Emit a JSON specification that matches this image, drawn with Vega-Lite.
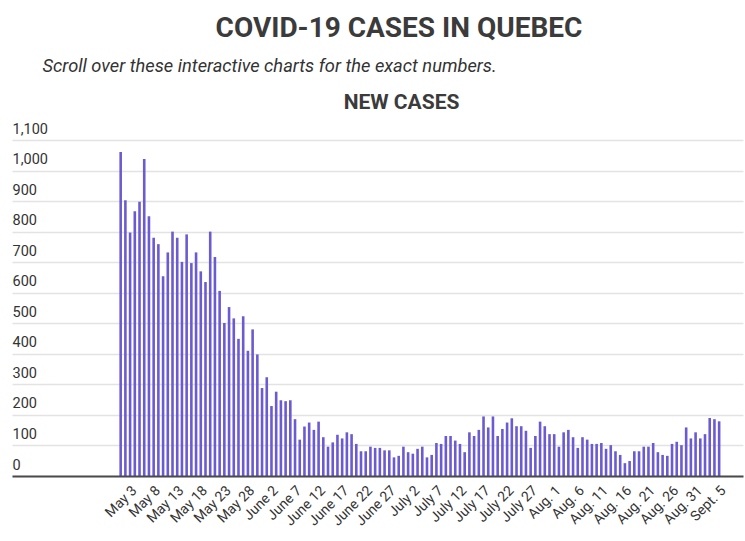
{
  "$schema": "https://vega.github.io/schema/vega-lite/v6.json",
  "width": 731,
  "height": 336,
  "autosize": {"type": "none"},
  "padding": {"left": 12, "top": 140, "right": 2, "bottom": 65},
  "background": "white",
  "title": {
    "text": "COVID-19 CASES IN QUEBEC",
    "anchor": "middle",
    "frame": "group",
    "dx": 21.5,
    "font": "Roboto",
    "fontSize": 28,
    "fontWeight": "bold",
    "color": "#3b3b3b",
    "offset": 13
  },
  "config": {"view": {"stroke": null}, "font": "Roboto"},
  "data": {
    "values": [
      {"date": "2020-05-03", "cases": 1061},
      {"date": "2020-05-04", "cases": 903},
      {"date": "2020-05-05", "cases": 797},
      {"date": "2020-05-06", "cases": 867},
      {"date": "2020-05-07", "cases": 898},
      {"date": "2020-05-08", "cases": 1038},
      {"date": "2020-05-09", "cases": 850},
      {"date": "2020-05-10", "cases": 780},
      {"date": "2020-05-11", "cases": 759},
      {"date": "2020-05-12", "cases": 654},
      {"date": "2020-05-13", "cases": 732},
      {"date": "2020-05-14", "cases": 800},
      {"date": "2020-05-15", "cases": 780},
      {"date": "2020-05-16", "cases": 701},
      {"date": "2020-05-17", "cases": 791},
      {"date": "2020-05-18", "cases": 697},
      {"date": "2020-05-19", "cases": 732},
      {"date": "2020-05-20", "cases": 670},
      {"date": "2020-05-21", "cases": 635},
      {"date": "2020-05-22", "cases": 800},
      {"date": "2020-05-23", "cases": 717},
      {"date": "2020-05-24", "cases": 606},
      {"date": "2020-05-25", "cases": 501},
      {"date": "2020-05-26", "cases": 553},
      {"date": "2020-05-27", "cases": 516},
      {"date": "2020-05-28", "cases": 449},
      {"date": "2020-05-29", "cases": 523},
      {"date": "2020-05-30", "cases": 410},
      {"date": "2020-05-31", "cases": 480},
      {"date": "2020-06-01", "cases": 398},
      {"date": "2020-06-02", "cases": 288},
      {"date": "2020-06-03", "cases": 323},
      {"date": "2020-06-04", "cases": 229},
      {"date": "2020-06-05", "cases": 276},
      {"date": "2020-06-06", "cases": 248},
      {"date": "2020-06-07", "cases": 245},
      {"date": "2020-06-08", "cases": 248},
      {"date": "2020-06-09", "cases": 186},
      {"date": "2020-06-10", "cases": 119},
      {"date": "2020-06-11", "cases": 162},
      {"date": "2020-06-12", "cases": 175},
      {"date": "2020-06-13", "cases": 151},
      {"date": "2020-06-14", "cases": 178},
      {"date": "2020-06-15", "cases": 127},
      {"date": "2020-06-16", "cases": 96},
      {"date": "2020-06-17", "cases": 110},
      {"date": "2020-06-18", "cases": 135},
      {"date": "2020-06-19", "cases": 123},
      {"date": "2020-06-20", "cases": 143},
      {"date": "2020-06-21", "cases": 137},
      {"date": "2020-06-22", "cases": 105},
      {"date": "2020-06-23", "cases": 81},
      {"date": "2020-06-24", "cases": 81},
      {"date": "2020-06-25", "cases": 96},
      {"date": "2020-06-26", "cases": 92},
      {"date": "2020-06-27", "cases": 92},
      {"date": "2020-06-28", "cases": 84},
      {"date": "2020-06-29", "cases": 84},
      {"date": "2020-06-30", "cases": 61},
      {"date": "2020-07-01", "cases": 66},
      {"date": "2020-07-02", "cases": 96},
      {"date": "2020-07-03", "cases": 78},
      {"date": "2020-07-04", "cases": 73},
      {"date": "2020-07-05", "cases": 89},
      {"date": "2020-07-06", "cases": 96},
      {"date": "2020-07-07", "cases": 61},
      {"date": "2020-07-08", "cases": 69},
      {"date": "2020-07-09", "cases": 108},
      {"date": "2020-07-10", "cases": 105},
      {"date": "2020-07-11", "cases": 131},
      {"date": "2020-07-12", "cases": 131},
      {"date": "2020-07-13", "cases": 116},
      {"date": "2020-07-14", "cases": 105},
      {"date": "2020-07-15", "cases": 78},
      {"date": "2020-07-16", "cases": 143},
      {"date": "2020-07-17", "cases": 131},
      {"date": "2020-07-18", "cases": 151},
      {"date": "2020-07-19", "cases": 195},
      {"date": "2020-07-20", "cases": 159},
      {"date": "2020-07-21", "cases": 195},
      {"date": "2020-07-22", "cases": 131},
      {"date": "2020-07-23", "cases": 154},
      {"date": "2020-07-24", "cases": 175},
      {"date": "2020-07-25", "cases": 189},
      {"date": "2020-07-26", "cases": 163},
      {"date": "2020-07-27", "cases": 163},
      {"date": "2020-07-28", "cases": 148},
      {"date": "2020-07-29", "cases": 92},
      {"date": "2020-07-30", "cases": 131},
      {"date": "2020-07-31", "cases": 178},
      {"date": "2020-08-01", "cases": 163},
      {"date": "2020-08-02", "cases": 137},
      {"date": "2020-08-03", "cases": 137},
      {"date": "2020-08-04", "cases": 96},
      {"date": "2020-08-05", "cases": 143},
      {"date": "2020-08-06", "cases": 151},
      {"date": "2020-08-07", "cases": 127},
      {"date": "2020-08-08", "cases": 92},
      {"date": "2020-08-09", "cases": 127},
      {"date": "2020-08-10", "cases": 119},
      {"date": "2020-08-11", "cases": 105},
      {"date": "2020-08-12", "cases": 105},
      {"date": "2020-08-13", "cases": 108},
      {"date": "2020-08-14", "cases": 89},
      {"date": "2020-08-15", "cases": 101},
      {"date": "2020-08-16", "cases": 81},
      {"date": "2020-08-17", "cases": 69},
      {"date": "2020-08-18", "cases": 42},
      {"date": "2020-08-19", "cases": 49},
      {"date": "2020-08-20", "cases": 81},
      {"date": "2020-08-21", "cases": 81},
      {"date": "2020-08-22", "cases": 96},
      {"date": "2020-08-23", "cases": 96},
      {"date": "2020-08-24", "cases": 108},
      {"date": "2020-08-25", "cases": 78},
      {"date": "2020-08-26", "cases": 69},
      {"date": "2020-08-27", "cases": 66},
      {"date": "2020-08-28", "cases": 105},
      {"date": "2020-08-29", "cases": 112},
      {"date": "2020-08-30", "cases": 101},
      {"date": "2020-08-31", "cases": 159},
      {"date": "2020-09-01", "cases": 123},
      {"date": "2020-09-02", "cases": 143},
      {"date": "2020-09-03", "cases": 123},
      {"date": "2020-09-04", "cases": 137},
      {"date": "2020-09-05", "cases": 190},
      {"date": "2020-09-06", "cases": 186},
      {"date": "2020-09-07", "cases": 179}
    ]
  },
  "mark": {"type": "bar", "color": "#6b5bd2", "width": 2.6},
  "encoding": {
    "x": {
      "field": "date",
      "type": "temporal",
      "scale": {
        "type": "utc",
        "domain": [
          {"year": 2020, "month": 4, "date": 11, "utc": true},
          {"year": 2020, "month": 9, "date": 11, "utc": true}
        ]
      },
      "axis": {
        "title": "NEW CASES",
        "titleFont": "Roboto",
        "titleFontSize": 21,
        "titleFontWeight": "bold",
        "titleColor": "#3b3b3b",
        "titleX": 389,
        "titleY": -368,
        "titleAlign": "center",
        "titleBaseline": "alphabetic",
        "values": [
          {"year": 2020, "month": 5, "date": 3, "utc": true},
          {"year": 2020, "month": 5, "date": 8, "utc": true},
          {"year": 2020, "month": 5, "date": 13, "utc": true},
          {"year": 2020, "month": 5, "date": 18, "utc": true},
          {"year": 2020, "month": 5, "date": 23, "utc": true},
          {"year": 2020, "month": 5, "date": 28, "utc": true},
          {"year": 2020, "month": 6, "date": 2, "utc": true},
          {"year": 2020, "month": 6, "date": 7, "utc": true},
          {"year": 2020, "month": 6, "date": 12, "utc": true},
          {"year": 2020, "month": 6, "date": 17, "utc": true},
          {"year": 2020, "month": 6, "date": 22, "utc": true},
          {"year": 2020, "month": 6, "date": 27, "utc": true},
          {"year": 2020, "month": 7, "date": 2, "utc": true},
          {"year": 2020, "month": 7, "date": 7, "utc": true},
          {"year": 2020, "month": 7, "date": 12, "utc": true},
          {"year": 2020, "month": 7, "date": 17, "utc": true},
          {"year": 2020, "month": 7, "date": 22, "utc": true},
          {"year": 2020, "month": 7, "date": 27, "utc": true},
          {"year": 2020, "month": 8, "date": 1, "utc": true},
          {"year": 2020, "month": 8, "date": 6, "utc": true},
          {"year": 2020, "month": 8, "date": 11, "utc": true},
          {"year": 2020, "month": 8, "date": 16, "utc": true},
          {"year": 2020, "month": 8, "date": 21, "utc": true},
          {"year": 2020, "month": 8, "date": 26, "utc": true},
          {"year": 2020, "month": 8, "date": 31, "utc": true},
          {"year": 2020, "month": 9, "date": 5, "utc": true}
        ],
        "labelExpr": "['Jan.','Feb.','March','April','May','June','July','Aug.','Sept.','Oct.','Nov.','Dec.'][utcmonth(datum.value)] + ' ' + utcdate(datum.value)",
        "labelAngle": -45,
        "labelAlign": "right",
        "labelBaseline": "middle",
        "labelPadding": 12,
        "labelOffset": 13.5,
        "labelFont": "Roboto",
        "labelFontSize": 14,
        "labelColor": "#333333",
        "labelOverlap": false,
        "labelBound": false,
        "ticks": false,
        "grid": false,
        "domainColor": "#4a4a4a",
        "domainWidth": 2,
        "zindex": 1
      }
    },
    "y": {
      "field": "cases",
      "type": "quantitative",
      "scale": {"domain": [0, 1100], "nice": false},
      "axis": {
        "title": "Scroll over these interactive charts for the exact numbers.",
        "titleAngle": 0,
        "titleAlign": "left",
        "titleBaseline": "alphabetic",
        "titleX": 30,
        "titleY": -69,
        "titleFont": "Roboto",
        "titleFontStyle": "italic",
        "titleFontWeight": "normal",
        "titleFontSize": 18.3,
        "titleColor": "#333333",
        "values": [0, 100, 200, 300, 400, 500, 600, 700, 800, 900, 1000, 1100],
        "format": ",d",
        "labelAlign": "left",
        "labelBaseline": "alphabetic",
        "labelOffset": -7,
        "labelPadding": 0,
        "labelFont": "Roboto",
        "labelFontSize": 14.5,
        "labelColor": "#333333",
        "labelOverlap": false,
        "ticks": false,
        "domain": false,
        "gridColor": "#e3e3e3",
        "gridWidth": 1.5
      }
    }
  }
}
